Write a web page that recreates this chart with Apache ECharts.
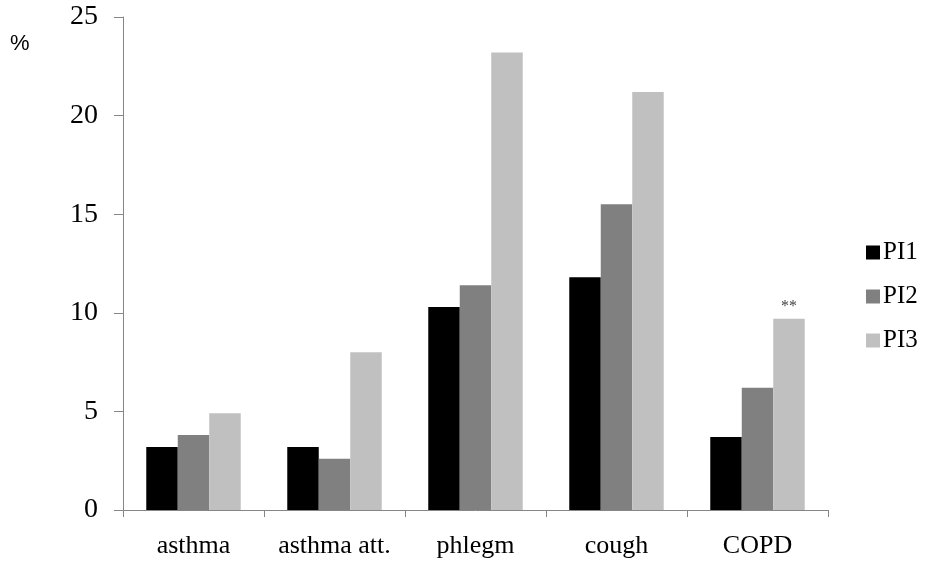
<!DOCTYPE html>
<html>
<head>
<meta charset="utf-8">
<script src="https://cdn.jsdelivr.net/npm/echarts@6/dist/echarts.min.js"></script>
<style>html,body{margin:0;padding:0;background:#fff;}#c{width:931px;height:573px;}</style>
</head>
<body>
<div id="c"></div>
<script>
const categories = ['asthma', 'asthma att.', 'phlegm', 'cough', 'COPD'];
const PI1 = [3.2, 3.2, 10.3, 11.8, 3.7];
const PI2 = [3.8, 2.6, 11.4, 15.5, 6.2];
const PI3 = [4.9, 8.0, 23.2, 21.2, 9.7];
const PI3marks = ['', '', '', '', '**'];
const yTicks = [0, 5, 10, 15, 20, 25];
const seriesNames = ['PI1', 'PI2', 'PI3'];
const colors = ['#000000', '#808080', '#c0c0c0'];

const serif = '"Liberation Serif", "Times New Roman", serif';
const chart = echarts.init(document.getElementById('c'));

function mk(name, data, color, marks) {
  return {
    name: name,
    type: 'bar',
    barGap: '0%',
    barCategoryGap: '33%',
    itemStyle: { color: color },
    data: data.map((v, i) => {
      const d = { value: v };
      if (marks && marks[i]) {
        d.label = { show: true, position: 'top', formatter: marks[i], distance: 4,
          fontFamily: serif, fontSize: 16, color: '#444' };
      }
      return d;
    })
  };
}

chart.setOption({
  animation: false,
  backgroundColor: '#fff',
  grid: { left: 123, right: 103, top: 17, bottom: 63 },
  graphic: [{ type: 'text', left: 10, top: 33, style: { text: '%', fontFamily: '"Liberation Sans", Arial, sans-serif', fontSize: 22, fill: '#000' } }],
  legend: {
    orient: 'vertical', left: 861, top: 235,
    itemWidth: 14, itemHeight: 14, itemGap: 19,
    icon: 'rect',
    data: seriesNames,
    textStyle: { fontFamily: serif, fontSize: 25, color: '#000', lineHeight: 25, padding: [0, 0, 0, -2] }
  },
  xAxis: {
    type: 'category', data: categories,
    axisLine: { lineStyle: { color: '#868686', width: 1 } },
    axisTick: { show: true, length: 7, lineStyle: { color: '#868686' } },
    axisLabel: { interval: 0, hideOverlap: false, fontFamily: serif, fontSize: 26, color: '#000', margin: 23 }
  },
  yAxis: {
    type: 'value', min: 0, max: 25, interval: 5,
    axisLine: { show: true, lineStyle: { color: '#868686', width: 1 } },
    axisTick: { show: true, length: 9, lineStyle: { color: '#868686' } },
    splitLine: { show: false },
    axisLabel: { fontFamily: serif, fontSize: 28, color: '#000', margin: 25,
      formatter: v => yTicks.includes(v) ? String(v) : '' }
  },
  series: [mk(seriesNames[0], PI1, colors[0]), mk(seriesNames[1], PI2, colors[1]), mk(seriesNames[2], PI3, colors[2], PI3marks)]
});
</script>
</body>
</html>
